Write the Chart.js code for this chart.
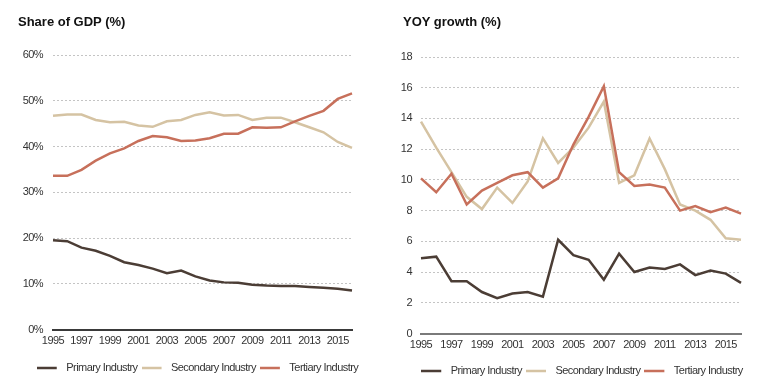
<!DOCTYPE html>
<html>
<head>
<meta charset="utf-8">
<script src="https://cdn.jsdelivr.net/npm/chart.js@4/dist/chart.umd.min.js"></script>
<style>
  html, body { margin: 0; padding: 0; background: #fff; }
  #wrap { position: relative; width: 768px; height: 390px; overflow: hidden; }
  .panel { position: absolute; top: 0; width: 384px; height: 390px; }
  .title { position: absolute; top: 14px; font: bold 13px "Liberation Sans", Arial, sans-serif; line-height: 16px; color: #111; white-space: nowrap; }
</style>
</head>
<body>
<div id="wrap">
  <div class="panel" style="left:0"><canvas id="c1" width="384" height="390"></canvas></div>
  <div class="panel" style="left:384px"><canvas id="c2" width="384" height="390"></canvas></div>
  <div class="title" style="left:18px">Share of GDP (%)</div>
  <div class="title" style="left:403px">YOY growth (%)</div>
</div>
<script>
const years = ['1995','1996','1997','1998','1999','2000','2001','2002','2003','2004','2005','2006','2007','2008','2009','2010','2011','2012','2013','2014','2015','2016'];
const seriesNames = ['Primary Industry', 'Secondary Industry', 'Tertiary Industry'];

const sharePrimary   = [19.5,19.3,17.9,17.2,16.1,14.7,14.1,13.3,12.3,12.9,11.6,10.7,10.3,10.2,9.8,9.6,9.5,9.5,9.3,9.1,8.9,8.5];
const shareSecondary = [46.7,47.0,47.0,45.8,45.3,45.4,44.6,44.3,45.5,45.8,46.9,47.5,46.8,46.9,45.8,46.3,46.3,45.3,44.2,43.1,41.0,39.7];
const shareTertiary  = [33.6,33.6,34.9,36.9,38.5,39.6,41.2,42.3,42.0,41.2,41.3,41.8,42.8,42.8,44.2,44.1,44.2,45.5,46.7,47.8,50.4,51.6];

const growthPrimary   = [4.9,5.0,3.4,3.4,2.7,2.3,2.6,2.7,2.4,6.1,5.1,4.8,3.5,5.2,4.0,4.3,4.2,4.5,3.8,4.1,3.9,3.3];
const growthSecondary = [13.8,12.1,10.5,8.9,8.1,9.5,8.5,9.9,12.7,11.1,12.1,13.4,15.1,9.8,10.3,12.7,10.7,8.4,8.0,7.4,6.2,6.1];
const growthTertiary  = [10.1,9.2,10.4,8.4,9.3,9.8,10.3,10.5,9.5,10.1,12.3,14.1,16.1,10.5,9.6,9.7,9.5,8.0,8.3,7.9,8.2,7.8];

const shareTicks = { min: 0, max: 60, step: 10 };
const growthTicks = { min: 0, max: 18, step: 2 };

const colors = ['#4b3d35', '#d5c3a3', '#c7705b'];
const drawOrder = [0, 2, 1]; // lower = drawn on top
const FONT = "'Liberation Sans', Arial, sans-serif";
const FSIZE = 11;
const LETTER_SPACING = '-0.55px';

function legendSwatch(color) {
  const c = document.createElement('canvas');
  c.width = 24; c.height = 4;
  const g = c.getContext('2d');
  g.fillStyle = color;
  g.fillRect(0, 0.75, 20, 2.5);
  return c;
}

const narrowText = {
  id: 'narrowText',
  beforeUpdate(chart) { chart.ctx.letterSpacing = LETTER_SPACING; },
  beforeDraw(chart) { chart.ctx.letterSpacing = LETTER_SPACING; }
};

function makeChart(id, data, ticksCfg, suffix, cfg) {
  const datasets = data.map((d, i) => ({
    label: seriesNames[i],
    data: d,
    order: drawOrder[i],
    borderColor: colors[i],
    backgroundColor: colors[i],
    borderWidth: 2.5,
    pointRadius: 0,
    pointHoverRadius: 0,
    pointStyle: legendSwatch(colors[i]),
    tension: 0,
    yAxisID: 'y'
  }));
  return new Chart(document.getElementById(id), {
    type: 'line',
    data: { labels: years, datasets },
    plugins: [narrowText],
    options: {
      responsive: false,
      animation: false,
      events: [],
      layout: { padding: { left: cfg.padL, right: 0, top: cfg.top, bottom: cfg.padB } },
      plugins: {
        title: { display: false },
        tooltip: { enabled: false },
        legend: {
          position: 'bottom',
          align: 'center',
          labels: {
            usePointStyle: true,
            pointStyleWidth: 24,
            padding: 4,
            color: '#333',
            font: { family: FONT, size: FSIZE },
            sort: (a, b) => a.datasetIndex - b.datasetIndex
          }
        }
      },
      scales: {
        x: {
          offset: false,
          grid: { display: false, drawTicks: false },
          border: { display: true, color: cfg.zeroColor, width: 2 },
          ticks: {
            autoSkip: false,
            maxRotation: 0,
            padding: 5,
            color: '#333',
            font: { family: FONT, size: FSIZE },
            callback: function (v, i) { return i % 2 === 0 ? years[i] : ''; }
          },
          afterFit: s => { s.height = cfg.xH; }
        },
        y: {
          position: 'left',
          min: ticksCfg.min, max: ticksCfg.max,
          grid: {
            drawTicks: false,
            color: c => (c.tick && c.tick.value === 0) ? 'rgba(0,0,0,0)' : '#c4c4c4',
            lineWidth: 1
          },
          border: { display: false, dash: [2, 2] },
          ticks: {
            stepSize: ticksCfg.step,
            padding: cfg.yPad,
            color: '#333',
            font: { family: FONT, size: FSIZE },
            callback: v => v + suffix
          },
          afterFit: s => { s.width = cfg.yW; }
        },
        y2: {
          position: 'right',
          display: true,
          grid: { display: false, drawTicks: false },
          border: { display: false },
          ticks: { display: false },
          afterFit: s => { s.width = cfg.rW; }
        }
      }
    }
  });
}

makeChart('c1', [sharePrimary, shareSecondary, shareTertiary], shareTicks, '%',
  { padL: 11, yW: 42, rW: 32, top: 55, padB: 6.5, xH: 29, yPad: 10, zeroColor: '#3a3a3a' });
makeChart('c2', [growthPrimary, growthSecondary, growthTertiary], growthTicks, '',
  { padL: 12, yW: 25, rW: 27, top: 57, padB: 3.5, xH: 28, yPad: 9, zeroColor: '#7a7a7a' });
</script>
</body>
</html>
